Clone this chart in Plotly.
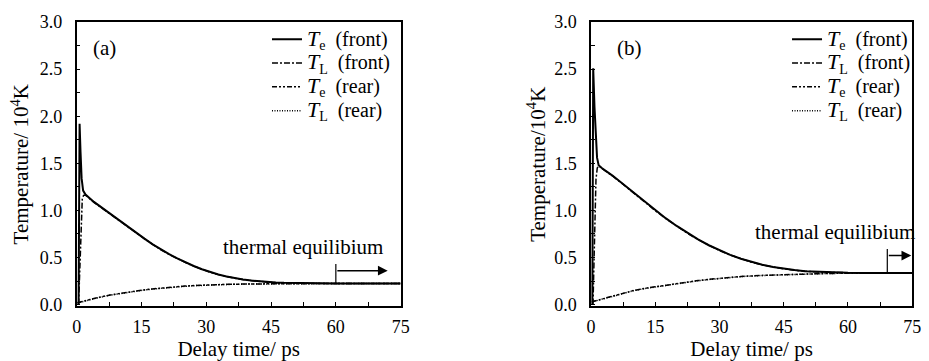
import plotly.graph_objects as go

# ---------------- Panel (a) data ----------------
ta_te_front = [0.45, 0.68, 0.9, 1.15, 1.5, 2.05, 4, 6.2, 8, 10, 12, 13.8, 15.7, 17.6, 19.5, 21.4, 23.3,
               25.2, 27.1, 29, 30.9, 32.8, 34.7, 36.6, 38.5, 40.4, 42.3, 44.2, 46.1, 48, 51.8, 55, 60,
               65, 70, 75]
a_te_front = [0.0, 1.92, 1.62, 1.34, 1.21, 1.168, 1.09, 1.015, 0.955, 0.89, 0.825, 0.765, 0.70, 0.64,
              0.585, 0.535, 0.49, 0.448, 0.41, 0.375, 0.345, 0.32, 0.298, 0.28, 0.266, 0.255, 0.246,
              0.239, 0.234, 0.231, 0.227, 0.225, 0.224, 0.224, 0.224, 0.224]
ta_tl_front = [0.45, 0.7, 0.9, 1.1, 1.3, 1.6, 2.05, 4, 6.2, 8, 10, 12, 13.8, 15.7, 17.6, 19.5, 21.4,
               23.3, 25.2, 27.1, 29, 30.9, 32.8, 34.7, 36.6, 38.5, 40.4, 42.3, 44.2, 46.1, 48, 51.8,
               55, 60, 65, 70, 75]
a_tl_front = [0.0, 0.35, 0.75, 1.0, 1.12, 1.16, 1.162, 1.086, 1.011, 0.951, 0.886, 0.821, 0.761,
              0.697, 0.637, 0.582, 0.532, 0.487, 0.446, 0.408, 0.373, 0.343, 0.318, 0.297, 0.279,
              0.265, 0.254, 0.245, 0.238, 0.233, 0.230, 0.226, 0.225, 0.224, 0.224, 0.224, 0.224]
ta_rear = [0.2, 1, 2.5, 5, 7.5, 10, 12.5, 15, 17.5, 20, 22.5, 25, 27.5, 30, 35, 40, 45, 50, 55, 60,
           65, 70, 75]
a_te_rear = [0.02, 0.03, 0.045, 0.075, 0.10, 0.12, 0.137, 0.152, 0.166, 0.178, 0.188, 0.196, 0.203,
             0.208, 0.215, 0.219, 0.222, 0.223, 0.224, 0.224, 0.224, 0.224, 0.224]
a_tl_rear = [0.018, 0.028, 0.043, 0.073, 0.098, 0.118, 0.135, 0.150, 0.164, 0.176, 0.186, 0.194,
             0.201, 0.207, 0.214, 0.218, 0.221, 0.223, 0.224, 0.224, 0.224, 0.224, 0.224]

# ---------------- Panel (b) data ----------------
tb_te_front = [0.3, 0.5, 0.8, 1.15, 1.4, 1.77, 2.5, 5, 7.5, 10, 12.5, 15, 17.5, 20, 22.5, 25, 27.5, 30,
               32.5, 35, 37.5, 40, 42.5, 45, 47.5, 50, 55, 60, 65, 70, 75]
b_te_front = [0.0, 2.51, 2.1, 1.75, 1.56, 1.48, 1.45, 1.37, 1.28, 1.185, 1.092, 1.0, 0.915, 0.835,
              0.76, 0.692, 0.63, 0.576, 0.528, 0.487, 0.452, 0.423, 0.399, 0.38, 0.366, 0.355,
              0.343, 0.337, 0.335, 0.335, 0.335]
tb_tl_front = [0.45, 0.7, 0.9, 1.15, 1.45, 1.8, 2.5, 5, 7.5, 10, 12.5, 15, 17.5, 20, 22.5, 25, 27.5, 30,
               32.5, 35, 37.5, 40, 42.5, 45, 47.5, 50, 55, 60, 65, 70, 75]
b_tl_front = [0.0, 0.6, 1.05, 1.33, 1.45, 1.475, 1.445, 1.366, 1.276, 1.182, 1.089, 0.997, 0.912,
              0.832, 0.757, 0.689, 0.628, 0.574, 0.526, 0.485, 0.450, 0.421, 0.398, 0.379, 0.365,
              0.354, 0.342, 0.336, 0.335, 0.335, 0.335]
tb_rear = [0.2, 1, 2.5, 5, 7.5, 10, 12.5, 15, 17.5, 20, 22.5, 25, 27.5, 30, 35, 40, 45, 50, 55, 60,
           65, 70, 75]
b_te_rear = [0.03, 0.04, 0.06, 0.095, 0.125, 0.15, 0.172, 0.19, 0.208, 0.225, 0.24, 0.255, 0.268,
             0.28, 0.298, 0.31, 0.319, 0.326, 0.33, 0.333, 0.334, 0.335, 0.335]
b_tl_rear = [0.028, 0.038, 0.058, 0.093, 0.123, 0.148, 0.17, 0.188, 0.206, 0.223, 0.238, 0.253,
             0.266, 0.279, 0.297, 0.309, 0.318, 0.325, 0.33, 0.333, 0.334, 0.335, 0.335]

LEG_FMT = ('<span style="font-size:20px"><span style="font-size:22px"><i>T</i></span>'
           '<sub>{}</sub>  {}</span>')
names = [LEG_FMT.format("e", "(front)"), LEG_FMT.format("L", "(front)"),
         LEG_FMT.format("e", "(rear)"), LEG_FMT.format("L", "(rear)")]
dashes = ["solid", "6px,2px,2px,2px", "5px,2px,2px,2px,2px,2px", "1px,1.5px"]
widths = [2, 1.5, 1.5, 1.5]

# annotation anchors
eq_a = dict(x=60, y0=0.224, y1=0.43, ya=0.36, xend=72, tx=52.5, ty=0.61)
eq_b = dict(x=69.2, y0=0.335, y1=0.59, ya=0.52, xend=74.8, tx=57.0, ty=0.77)

FONT = "Times New Roman, Liberation Serif, serif"
fig = go.Figure()

panels = [
    ("x", "y", "legend", [(ta_te_front, a_te_front), (ta_tl_front, a_tl_front),
                          (ta_rear, a_te_rear), (ta_rear, a_tl_rear)]),
    ("x2", "y2", "legend2", [(tb_te_front, b_te_front), (tb_tl_front, b_tl_front),
                             (tb_rear, b_te_rear), (tb_rear, b_tl_rear)]),
]
for xa, ya, lg, series in panels:
    for (t, v), nm, ds, w in zip(series, names, dashes, widths):
        fig.add_trace(go.Scatter(x=t, y=v, mode="lines", name=nm, xaxis=xa, yaxis=ya,
                                 legend=lg, line=dict(color="black", width=w, dash=ds)))

axis_common = dict(range=[0, 75], dtick=15, ticks="inside", ticklen=5, tickwidth=1,
                   tickcolor="black", showline=True, linecolor="black", linewidth=1.5,
                   mirror=True, showgrid=False, zeroline=False, ticklabelstandoff=3,
                   tickfont=dict(family=FONT, size=18, color="black"),
                   minor=dict(dtick=7.5, ticks="inside", ticklen=5, tickcolor="black"),
                   title=dict(text="Delay time/ ps", font=dict(family=FONT, size=21, color="black"),
                              standoff=0))
yaxis_common = dict(range=[-0.02, 3.0], dtick=0.5, tickformat=".1f", ticks="inside", ticklen=4,
                    tickwidth=1, tickcolor="black", showline=True, linecolor="black",
                    linewidth=1.5, mirror=True, showgrid=False, zeroline=False,
                    tickfont=dict(family=FONT, size=18, color="black"),
                    minor=dict(dtick=0.25, ticks="inside", ticklen=4, tickcolor="black"),
                    ticklabelstandoff=9)

leg_common = dict(xanchor="left", yanchor="top", bgcolor="rgba(0,0,0,0)",
                  font=dict(family=FONT, size=16, color="black"), tracegroupgap=0, itemwidth=30)

fig.update_layout(
    width=929, height=361, margin=dict(l=0, r=0, t=0, b=0),
    paper_bgcolor="white", plot_bgcolor="white",
    font=dict(family=FONT, color="black"),
    xaxis=dict(axis_common, domain=[0.0783, 0.4324], anchor="y"),
    yaxis=dict(yaxis_common, domain=[0.1357, 0.9648], anchor="x",
               title=dict(text="Temperature/ 10<sup>4</sup>K",
                          font=dict(family=FONT, size=21, color="black"), standoff=5)),
    xaxis2=dict(axis_common, domain=[0.6405, 0.9914], anchor="y2"),
    yaxis2=dict(yaxis_common, domain=[0.1357, 0.9648], anchor="x2",
                title=dict(text="Temperature/10<sup>4</sup>K",
                           font=dict(family=FONT, size=21, color="black"), standoff=3)),
    legend=dict(leg_common, x=266 / 929, y=1 - 13 / 361),
    legend2=dict(leg_common, x=794 / 929, y=1 - 13 / 361),
    showlegend=True,
)

for xr, yr, eq, lab, lx in [("x", "y", eq_a, "(a)", 6.4), ("x2", "y2", eq_b, "(b)", 9.0)]:
    fig.add_annotation(x=lx, y=2.72, xref=xr, yref=yr, text=lab, showarrow=False,
                       font=dict(family=FONT, size=21, color="black"))
    fig.add_annotation(x=eq["tx"], y=eq["ty"], xref=xr, yref=yr, text="thermal equilibium",
                       showarrow=False, font=dict(family=FONT, size=21, color="black"))
    fig.add_shape(type="line", xref=xr, yref=yr, x0=eq["x"], x1=eq["x"], y0=eq["y0"], y1=eq["y1"],
                  line=dict(color="black", width=1.2))
    fig.add_annotation(x=eq["xend"], y=eq["ya"], ax=eq["x"], ay=eq["ya"], xref=xr, yref=yr,
                       axref=xr, ayref=yr, text="", showarrow=True, arrowhead=2, arrowsize=1.3,
                       arrowwidth=1.5, arrowcolor="black")

fig.write_html("out.html")
